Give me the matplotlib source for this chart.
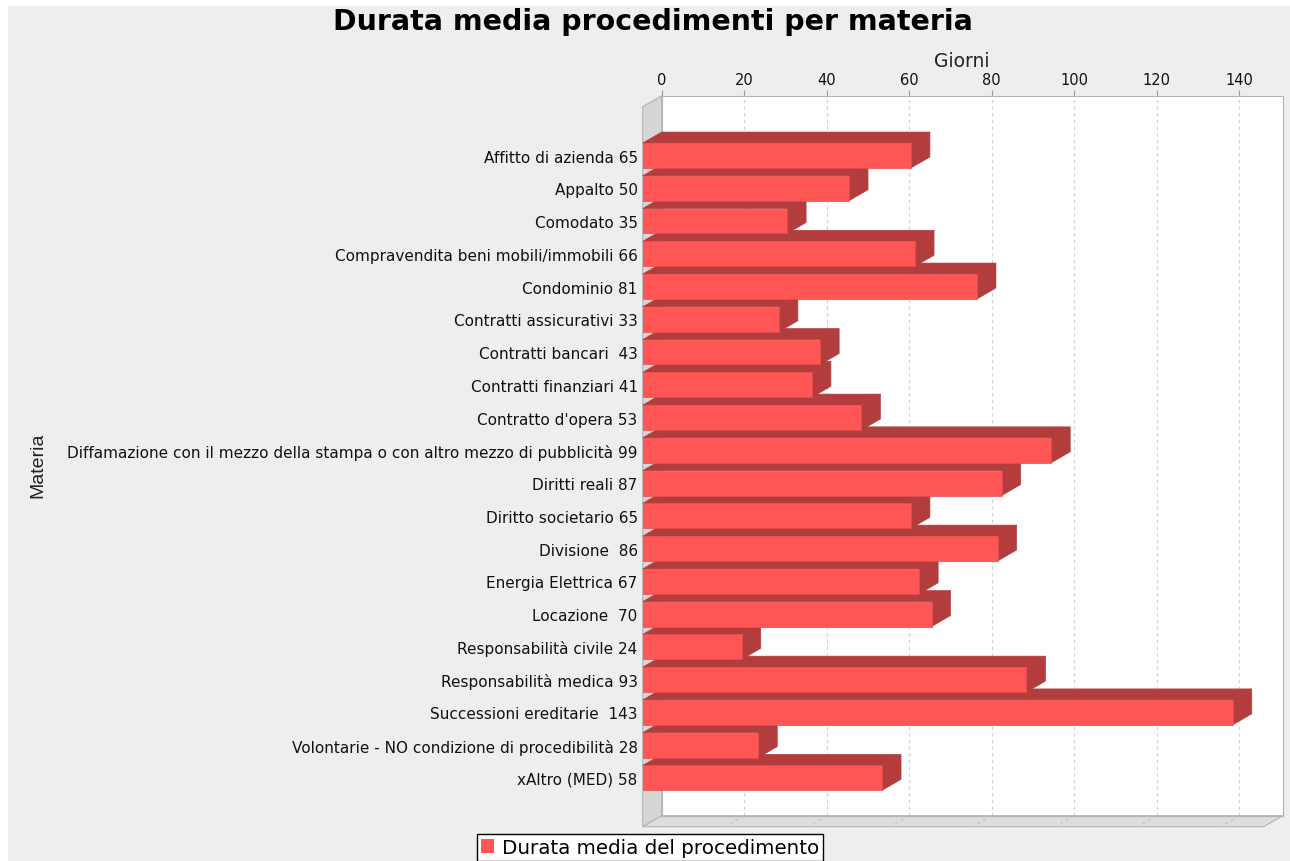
import matplotlib.pyplot as plt
import numpy as np
from matplotlib.patches import Polygon, Rectangle, Patch

categorie = ["Affitto di azienda", "Appalto", "Comodato",
             "Compravendita beni mobili/immobili", "Condominio",
             "Contratti assicurativi", "Contratti bancari ", "Contratti finanziari",
             "Contratto d'opera",
             "Diffamazione con il mezzo della stampa o con altro mezzo di pubblicità",
             "Diritti reali", "Diritto societario", "Divisione ", "Energia Elettrica",
             "Locazione ", "Responsabilità civile", "Responsabilità medica",
             "Successioni ereditarie ", "Volontarie - NO condizione di procedibilità",
             "xAltro (MED)"]
giorni = [65, 50, 35, 66, 81, 33, 43, 41, 53, 99, 87, 65, 86, 67, 70, 24, 93, 143, 28, 58]
xticks = [0, 20, 40, 60, 80, 100, 120, 140]

W, H = 1290, 862
fig = plt.figure(figsize=(W / 100, H / 100), dpi=100, facecolor='white')
fig.patches.append(Rectangle((8 / W, 0), 1 - 8 / W, 1 - 7 / H, transform=fig.transFigure,
                             facecolor='#EEEEEE', edgecolor='none', zorder=-10))

# back plane of the 3D plot
left, right, top, bottom = 661.7, 1282.7, 96.7, 816.7
ax = fig.add_axes([left / W, 1 - bottom / H, (right - left) / W, (bottom - top) / H])
xmax = 150.5
ymin, ymax = -1.49, 20.49
ax.set_xlim(0, xmax)
ax.set_ylim(ymax, ymin)
ax.set_facecolor('white')

# depth of the 3D effect in pixels -> data units
depth_px = (19, 11)
dx = depth_px[0] * xmax / (right - left)
dy = depth_px[1] * (ymax - ymin) / (bottom - top)

wall_col = '#D6D6D6'
floor_col = '#DDDDDD'
edge_col = '#B4B4B4'
ax.add_patch(Polygon([(0, ymin), (0, ymax), (-dx, ymax + dy), (-dx, ymin + dy)],
                     closed=True, facecolor=wall_col, edgecolor=edge_col, lw=0.8,
                     clip_on=False, zorder=1))
ax.add_patch(Polygon([(0, ymax), (xmax, ymax), (xmax - dx, ymax + dy), (-dx, ymax + dy)],
                     closed=True, facecolor=floor_col, edgecolor=edge_col, lw=0.8,
                     clip_on=False, zorder=1))

ax.grid(axis='x', linestyle=(0, (3, 3)), color='#CFCFCF', lw=0.8)
ax.set_axisbelow(True)
for t in xticks[1:]:
    ax.plot([t, t - dx], [ymax, ymax + dy], linestyle=(0, (3, 3)), color='#C4C4C4',
            lw=0.8, clip_on=False, zorder=1.5)

y = np.arange(len(categorie))
h = 0.76
front = '#FF5555'
dark = '#B33D3D'
n = len(categorie)
for i, v in enumerate(giorni):
    z = 10 + (n - i) * 0.1
    yt = y[i] + dy - h / 2
    yb = y[i] + dy + h / 2
    x0 = -dx
    x1 = v - dx
    # top face
    ax.add_patch(Polygon([(x0, yt), (x1, yt), (x1 + dx, yt - dy), (x0 + dx, yt - dy)],
                         closed=True, facecolor=dark, edgecolor=dark, lw=0.5,
                         clip_on=False, zorder=z))
    # right face
    ax.add_patch(Polygon([(x1, yt), (x1 + dx, yt - dy), (x1 + dx, yb - dy), (x1, yb)],
                         closed=True, facecolor=dark, edgecolor=dark, lw=0.5,
                         clip_on=False, zorder=z))
    # front face
    ax.barh(y[i] + dy, v, height=h, left=x0, color=front, edgecolor='#E84C4C', lw=0.5,
            clip_on=False, zorder=z + 0.05)

ax.xaxis.tick_top()
ax.xaxis.set_label_position('top')
ax.set_xticks(xticks)
ax.tick_params(axis='x', direction='out', length=4, color='#999999', labelsize=10.5,
               pad=2, labelcolor='#111111')
ax.set_xlabel('Giorni', fontsize=13.5, labelpad=5, color='#222222')
ax.xaxis.set_label_coords((962 - left) / (right - left), 1 + (bottom - 67) / (bottom - top) - 1)

ax.set_yticks(y + dy)
ax.set_yticklabels([f"{c} {v}" for c, v in zip(categorie, giorni)], fontsize=11,
                   color='#111111')
ax.tick_params(axis='y', length=0, pad=(depth_px[0] + 5) * 0.72)
ax.set_ylabel('Materia', fontsize=14, color='#222222', family='Liberation Sans')
ax.yaxis.set_label_coords((46 - left) / (right - left), 0.488)

for s in ax.spines.values():
    s.set_color(edge_col)
    s.set_linewidth(0.8)

fig.text(653 / W, 1 - 22 / H, 'Durata media procedimenti per materia', ha='center',
         va='center', fontsize=20.5, fontweight='bold', color='black')

fig.legend(handles=[Patch(facecolor=front, edgecolor='none')],
           labels=['Durata media del procedimento'], loc='upper left',
           bbox_to_anchor=(477 / W, 1 - 835 / H), fontsize=14.3, frameon=True,
           fancybox=False, edgecolor='black', facecolor='white', framealpha=1,
           handlelength=0.65, handleheight=0.65, handletextpad=0.4, borderpad=0.2,
           borderaxespad=0)

fig.savefig('out.png', dpi=100, facecolor=fig.get_facecolor())
